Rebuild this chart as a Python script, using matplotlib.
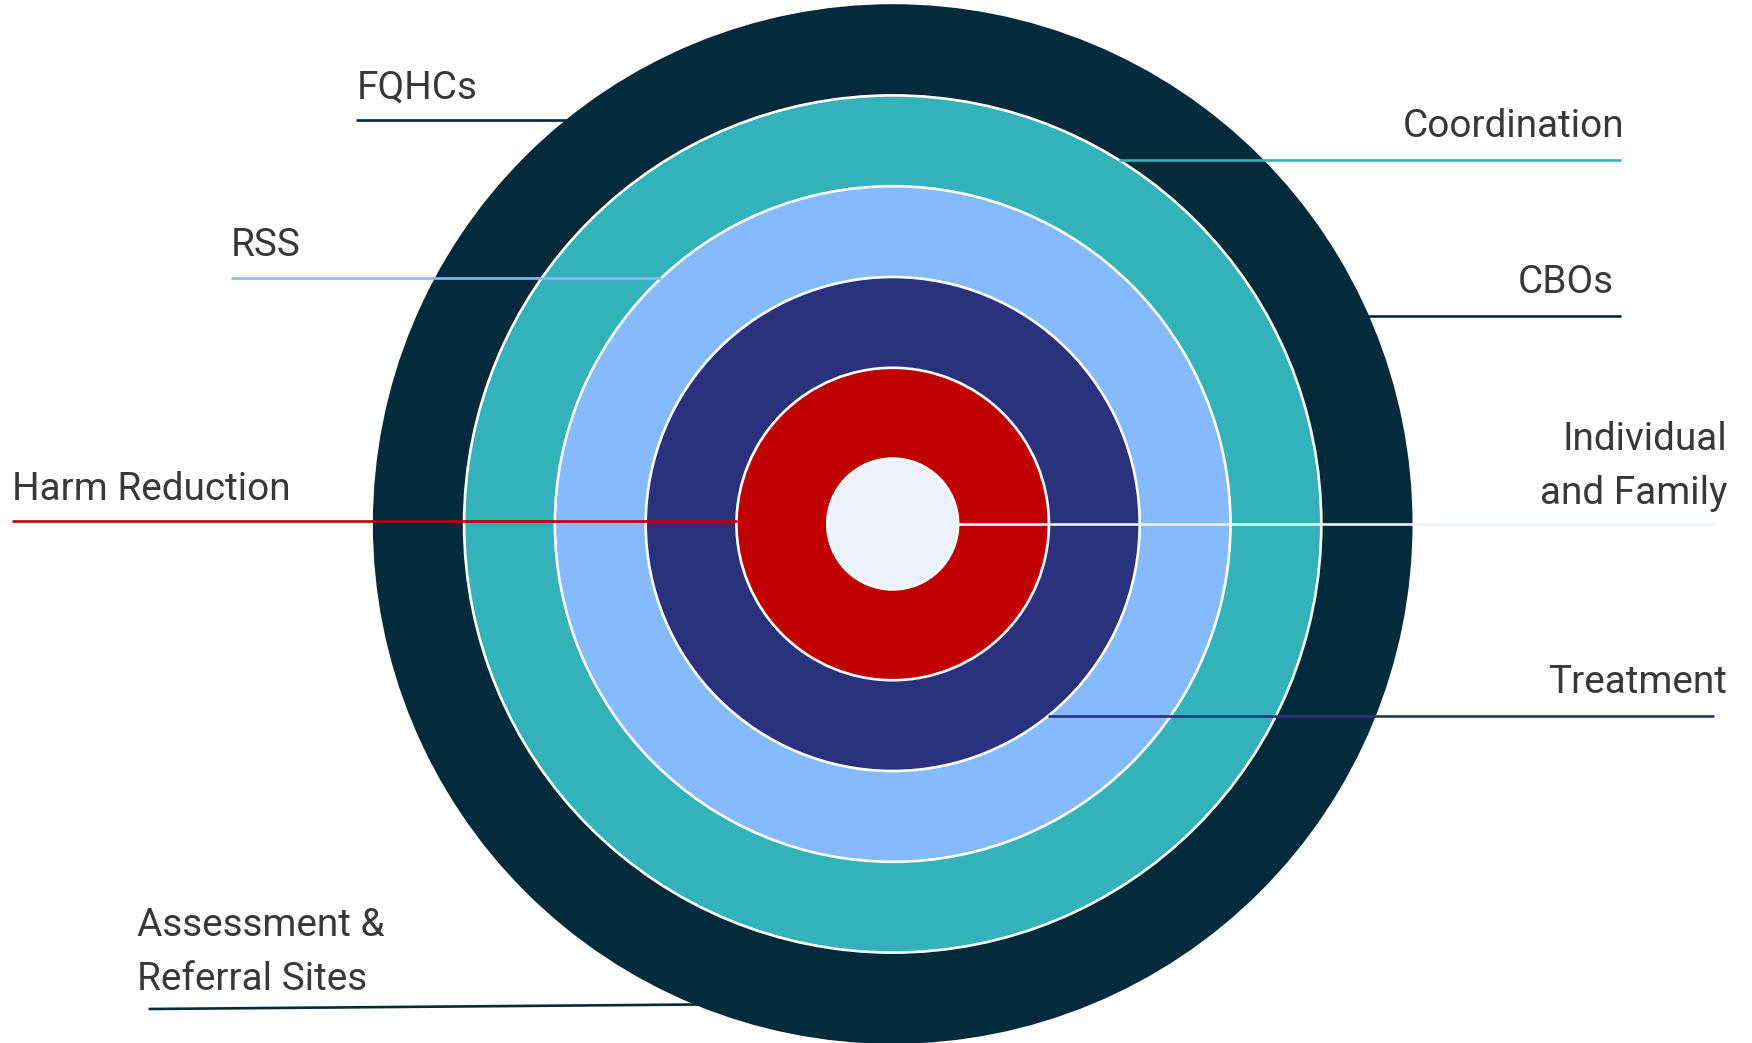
import numpy as np
import matplotlib
matplotlib.use("Agg")
import matplotlib.pyplot as plt
from matplotlib.patches import Circle

# Ring layers, innermost first
ring_names = ["Individual and Family", "Harm Reduction", "Treatment", "RSS", "Coordination", "Outer Partners"]
ring_colors = ["#EBF2FB", "#C00000", "#2A317D", "#85BAFD", "#33B3B9", "#032B3B"]

# Callout labels and the ring each one points to
label_texts = ["FQHCs", "RSS", "Harm Reduction", "Assessment &\nReferral Sites",
               "Coordination", "CBOs", "Individual\nand Family", "Treatment"]
label_rings = [5, 3, 1, 5, 4, 5, 0, 2]

W, H = 1752, 1043
fig = plt.figure(figsize=(W / 100, H / 100), dpi=100)
ax = fig.add_axes([0, 0, 1, 1])
ax.set_xlim(0, W)
ax.set_ylim(H, 0)
ax.axis("off")

cx, cy = 892.7, 524.0
core_r, band = 65.4, 90.8
radii = [core_r + band * i for i in range(len(ring_names))]
radii[-1] = 518.5

for r, col in zip(radii[::-1], ring_colors[::-1]):
    edge = "white" if col != ring_colors[-1] else col
    ax.add_patch(Circle((cx, cy), r, facecolor=col, edgecolor=edge, lw=1.9, zorder=1))

# Layout of each callout: side, text anchor x, last-line baseline y, far line end x, line y (far, near)
layout = [
    ("L", 357.0, 98.5, 356.0, (119.6, 119.6)),
    ("L", 231.0, 256.0, 231.0, (278.2, 278.2)),
    ("L", 12.3, 499.5, 12.3, (520.7, 520.7)),
    ("L", 137.4, 990.0, 148.6, (1009.0, 1004.5)),
    ("R", 1624.6, 137.4, 1621.2, (159.8, 159.8)),
    ("R", 1613.4, 292.7, 1621.2, (316.2, 316.2)),
    ("R", 1727.3, 504.0, 1714.0, (524.0, 524.0)),
    ("R", 1727.3, 692.7, 1714.0, (716.2, 716.2)),
]

font = dict(family=["Roboto", "DejaVu Sans"], fontsize=27.9, color="#383838")

for text, ring, (side, tx, ty, fx, (y_far, y_near)) in zip(label_texts, label_rings, layout):
    r = radii[ring]
    col = ring_colors[ring]
    dy = y_near - cy
    dx = np.sqrt(max(r * r - dy * dy, 0.0))
    if side == "L":
        nx = cx - dx
        ax.plot([fx, nx], [y_far, y_near], color=col, lw=1.9, solid_capstyle="butt", zorder=3)
        ax.text(tx, ty, text, ha="left", va="baseline", linespacing=1.6, zorder=4, **font)
    else:
        nx = cx + dx
        ax.plot([nx, fx], [y_near, y_far], color=col, lw=1.9, solid_capstyle="butt", zorder=3)
        ax.text(tx, ty, text, ha="right", va="baseline", linespacing=1.6,
                multialignment="right", zorder=4, **font)

fig.savefig("out.png", dpi=100, facecolor="white")
